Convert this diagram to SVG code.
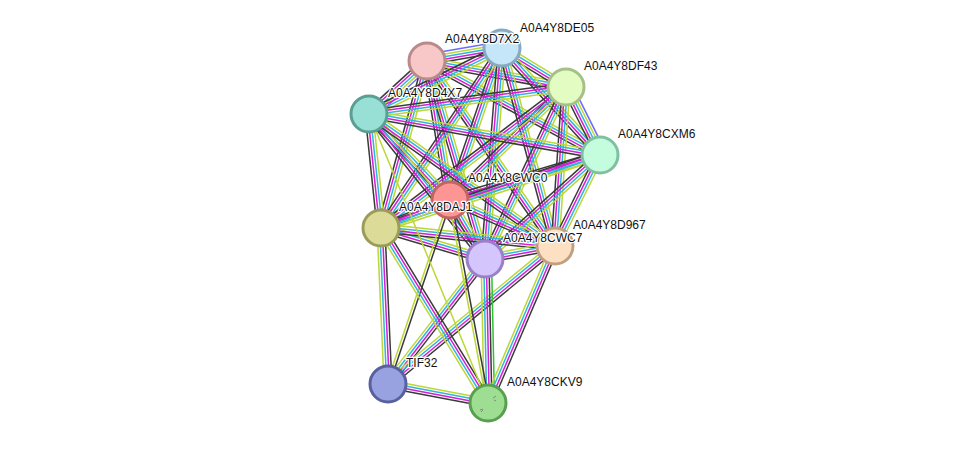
<svg xmlns="http://www.w3.org/2000/svg" xmlns:xlink="http://www.w3.org/1999/xlink" width="976" height="449" viewBox="0 0 976 449">
<style>
.ty{stroke:#bcd736;stroke-width:1.5}
.tc{stroke:#2fb6dd;stroke-width:1.5}
.tm{stroke:#d61ed6;stroke-width:1.5}
.tk{stroke:#3a3a3a;stroke-width:1.5}
.tb{stroke:#6a6aff;stroke-width:1.5}
.tg{stroke:#30c030;stroke-width:1.5}
.n{stroke-width:3}
.lb{font-family:"Liberation Sans",Arial,sans-serif;font-size:12px;fill:#111;stroke:#fff;stroke-width:2.5;paint-order:stroke;stroke-linejoin:round}
</style>
<defs>
<g id="e4"><line class="ty" x1="0" y1="-3.9" x2="1" y2="-3.9"/><line class="tc" x1="0" y1="-1.3" x2="1" y2="-1.3"/><line class="tm" x1="0" y1="1.3" x2="1" y2="1.3"/><line class="tk" x1="0" y1="3.9" x2="1" y2="3.9"/></g>
<g id="e5"><line class="tb" x1="0" y1="-6.5" x2="1" y2="-6.5"/><line class="ty" x1="0" y1="-3.9" x2="1" y2="-3.9"/><line class="tc" x1="0" y1="-1.3" x2="1" y2="-1.3"/><line class="tm" x1="0" y1="1.3" x2="1" y2="1.3"/><line class="tk" x1="0" y1="3.9" x2="1" y2="3.9"/></g>
<g id="e5g"><line class="ty" x1="0" y1="-3.9" x2="1" y2="-3.9"/><line class="tc" x1="0" y1="-1.3" x2="1" y2="-1.3"/><line class="tm" x1="0" y1="1.3" x2="1" y2="1.3"/><line class="tk" x1="0" y1="3.9" x2="1" y2="3.9"/><line class="tg" x1="0" y1="6.5" x2="1" y2="6.5"/></g>
<g id="eky"><line class="ty" x1="0" y1="-1.3" x2="1" y2="-1.3"/><line class="tk" x1="0" y1="1.3" x2="1" y2="1.3"/></g>
<g id="ey"><line class="ty" x1="0" y1="0" x2="1" y2="0"/></g>
</defs>
<rect width="976" height="449" fill="#fff"/>
<g id="edges">
<use href="#e5" transform="matrix(75,-13,0.171,0.986,427,61)"/>
<use href="#e4" transform="matrix(139,26,-0.184,0.983,427,61)"/>
<use href="#e5" transform="matrix(-58,53,-0.674,-0.738,427,61)"/>
<use href="#e4" transform="matrix(173,94,-0.477,0.879,427,61)"/>
<use href="#e4" transform="matrix(23,139,-0.987,0.163,427,61)"/>
<use href="#e4" transform="matrix(-46,167,-0.964,-0.266,427,61)"/>
<use href="#e4" transform="matrix(58,198,-0.960,0.281,427,61)"/>
<use href="#e4" transform="matrix(128,185,-0.822,0.569,427,61)"/>
<use href="#e4" transform="matrix(64,39,-0.521,0.854,502,48)"/>
<use href="#e4" transform="matrix(-133,66,-0.444,-0.896,502,48)"/>
<use href="#e4" transform="matrix(98,107,-0.737,0.675,502,48)"/>
<use href="#e4" transform="matrix(-52,152,-0.946,-0.324,502,48)"/>
<use href="#e4" transform="matrix(-121,180,-0.830,-0.558,502,48)"/>
<use href="#e4" transform="matrix(-17,211,-0.997,-0.080,502,48)"/>
<use href="#e4" transform="matrix(53,198,-0.966,0.259,502,48)"/>
<use href="#e4" transform="matrix(-197,27,-0.136,-0.991,566,87)"/>
<use href="#e5" transform="matrix(34,68,-0.895,0.447,566,87)"/>
<use href="#e4" transform="matrix(-116,113,-0.698,-0.716,566,87)"/>
<use href="#e4" transform="matrix(-185,141,-0.606,-0.795,566,87)"/>
<use href="#e4" transform="matrix(-81,172,-0.905,-0.426,566,87)"/>
<use href="#e4" transform="matrix(-11,159,-0.998,-0.069,566,87)"/>
<use href="#e4" transform="matrix(231,41,-0.175,0.985,369,114)"/>
<use href="#e4" transform="matrix(81,86,-0.728,0.686,369,114)"/>
<use href="#e4" transform="matrix(12,114,-0.995,0.105,369,114)"/>
<use href="#e4" transform="matrix(116,145,-0.781,0.625,369,114)"/>
<use href="#e4" transform="matrix(186,132,-0.579,0.815,369,114)"/>
<use href="#e4" transform="matrix(-150,45,-0.287,-0.958,600,155)"/>
<use href="#e4" transform="matrix(-219,73,-0.316,-0.949,600,155)"/>
<use href="#e4" transform="matrix(-115,104,-0.671,-0.742,600,155)"/>
<use href="#e4" transform="matrix(-45,91,-0.897,-0.443,600,155)"/>
<use href="#e4" transform="matrix(-69,28,-0.376,-0.926,450,200)"/>
<use href="#e4" transform="matrix(35,59,-0.860,0.510,450,200)"/>
<use href="#e4" transform="matrix(105,46,-0.401,0.916,450,200)"/>
<use href="#e4" transform="matrix(104,31,-0.286,0.958,381,228)"/>
<use href="#e4" transform="matrix(174,18,-0.103,0.995,381,228)"/>
<use href="#e4" transform="matrix(70,-13,0.183,0.983,485,259)"/>
<use href="#e4" transform="matrix(-7,-156,0.999,-0.045,388,384)"/>
<use href="#e4" transform="matrix(100,19,-0.187,0.982,388,384)"/>
<use href="#e4" transform="matrix(97,-125,0.790,0.613,388,384)"/>
<use href="#e4" transform="matrix(167,-138,0.637,0.771,388,384)"/>
<use href="#eky" transform="matrix(62,-184,0.947,0.319,388,384)"/>
<use href="#e5g" transform="matrix(-3,-144,1.0,-0.021,488,403)"/>
<use href="#e4" transform="matrix(67,-157,0.920,0.393,488,403)"/>
<use href="#e4" transform="matrix(-107,-175,0.853,-0.522,488,403)"/>
<use href="#eky" transform="matrix(-38,-203,0.983,-0.184,488,403)"/>
<use href="#ey" transform="matrix(-119,-289,0.925,-0.381,488,403)"/>
</g>
<g id="A0A4Y8DE05"><circle class="n" cx="502" cy="48" r="18" fill="#c4e6f8" stroke="#88aac0"/><text class="lb" x="520" y="32">A0A4Y8DE05</text></g>
<g id="A0A4Y8D7X2"><circle class="n" cx="427" cy="61" r="18" fill="#f8c8c8" stroke="#b88a8a"/><text class="lb" x="445" y="43">A0A4Y8D7X2</text></g>
<g id="A0A4Y8DF43"><circle class="n" cx="566" cy="87" r="18" fill="#e2fcc2" stroke="#a6c08a"/><text class="lb" x="584" y="70">A0A4Y8DF43</text></g>
<g id="A0A4Y8D4X7"><circle class="n" cx="369" cy="114" r="18" fill="#98e0d6" stroke="#5a9e94"/><text class="lb" x="388" y="97">A0A4Y8D4X7</text></g>
<g id="A0A4Y8CXM6"><circle class="n" cx="600" cy="155" r="18" fill="#c4fcde" stroke="#80c0a0"/><text class="lb" x="618" y="138">A0A4Y8CXM6</text></g>
<g id="A0A4Y8CWC0"><circle class="n" cx="450" cy="200" r="18" fill="#fd9595" stroke="#c06464"/><text class="lb" x="468" y="182">A0A4Y8CWC0</text></g>
<g id="A0A4Y8DAJ1"><circle class="n" cx="381" cy="228" r="18" fill="#dcdc98" stroke="#9c9c5a"/><text class="lb" x="399" y="211">A0A4Y8DAJ1</text></g>
<g id="A0A4Y8D967"><circle class="n" cx="555" cy="246" r="18" fill="#fde0c2" stroke="#c0a080"/><text class="lb" x="573" y="229">A0A4Y8D967</text></g>
<g id="A0A4Y8CWC7"><circle class="n" cx="485" cy="259" r="18" fill="#d4c6fc" stroke="#9a80c8"/><text class="lb" x="503" y="242">A0A4Y8CWC7</text></g>
<g id="TIF32"><circle class="n" cx="388" cy="384" r="18" fill="#98a2e0" stroke="#5860a0"/><text class="lb" x="406" y="367">TIF32</text></g>
<g id="A0A4Y8CKV9"><circle class="n" cx="488" cy="403" r="18" fill="#9ede92" stroke="#5a9e50"/><path d="M493 398 l3 -2 M494 400 l2 1 M480 410 l3 -1 M481 412 l2 -2" stroke="#777" stroke-width="0.8" fill="none"/><text class="lb" x="507" y="386">A0A4Y8CKV9</text></g>
</svg>
